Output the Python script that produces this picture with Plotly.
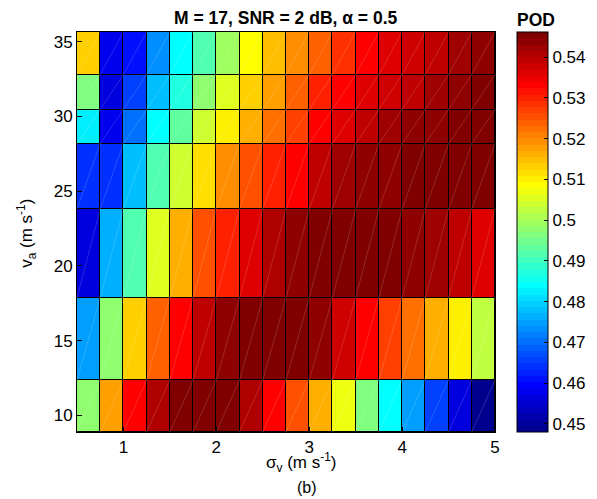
import plotly.graph_objects as go

# sigma_v cell edges (m/s) and v_a cell edges (m/s)
sigma_edges = [0.5 + 0.25 * i for i in range(19)]
va_edges = [8.88, 12.35, 17.86, 23.8, 28.17, 30.46, 32.8, 35.65]

# POD values, rows from bottom (low v_a) to top (high v_a), 18 columns each
pod_row1 = [0.4978, 0.5180, 0.5339, 0.5403, 0.5462, 0.5460, 0.5457, 0.5408, 0.5339,
            0.5251, 0.5161, 0.5064, 0.4968, 0.4848, 0.4747, 0.4662, 0.4568, 0.4492]
pod_row2 = [0.4747, 0.4978, 0.5128, 0.5241, 0.5339, 0.5388, 0.5433, 0.5452, 0.5455,
            0.5452, 0.5433, 0.5383, 0.5339, 0.5275, 0.5223, 0.5156, 0.5094, 0.5020]
pod_row3 = [0.4563, 0.4762, 0.4922, 0.5059, 0.5156, 0.5248, 0.5300, 0.5364, 0.5403,
            0.5433, 0.5452, 0.5462, 0.5460, 0.5452, 0.5433, 0.5418, 0.5388, 0.5369]
pod_row4 = [0.4642, 0.4647, 0.4781, 0.4917, 0.5040, 0.5113, 0.5187, 0.5248, 0.5300,
            0.5339, 0.5393, 0.5423, 0.5433, 0.5442, 0.5447, 0.5452, 0.5452, 0.5457]
pod_row5 = [0.4829, 0.4583, 0.4701, 0.4834, 0.4925, 0.5040, 0.5108, 0.5170, 0.5223,
            0.5275, 0.5325, 0.5364, 0.5393, 0.5418, 0.5433, 0.5442, 0.5457, 0.5462]
pod_row6 = [0.4968, 0.4563, 0.4652, 0.4781, 0.4878, 0.4971, 0.5059, 0.5128, 0.5180,
            0.5241, 0.5295, 0.5339, 0.5369, 0.5383, 0.5398, 0.5423, 0.5444, 0.5457]
pod_row7 = [0.5128, 0.4578, 0.4608, 0.4726, 0.4848, 0.4917, 0.4996, 0.5079, 0.5148,
            0.5192, 0.5241, 0.5290, 0.5339, 0.5369, 0.5379, 0.5398, 0.5418, 0.5433]

x_ticks = [1, 2, 3, 4, 5]
y_ticks = [10, 15, 20, 25, 30, 35]
cbar_ticks = [0.45, 0.46, 0.47, 0.48, 0.49, 0.50, 0.51, 0.52, 0.53, 0.54]
cbar_labels = ["0.45", "0.46", "0.47", "0.48", "0.49", "0.5", "0.51", "0.52", "0.53", "0.54"]
z_min, z_max = 0.448, 0.5462

z = [pod_row1, pod_row2, pod_row3, pod_row4, pod_row5, pod_row6, pod_row7]


def matlab_jet(m=64):
    n = -(-m // 4)
    u = [k / n for k in range(1, n + 1)] + [1.0] * (n - 1) + [k / n for k in range(n, 0, -1)]
    g0 = -(-n // 2) - (1 if m % 4 == 1 else 0)
    J = [[0.0, 0.0, 0.0] for _ in range(m)]
    for i, val in enumerate(u):
        g = g0 + i + 1
        r = g + n
        b = g - n
        if 1 <= r <= m:
            J[r - 1][0] = val
        if 1 <= g <= m:
            J[g - 1][1] = val
        if 1 <= b <= m:
            J[b - 1][2] = val
    return J


jet = matlab_jet(64)
colorscale = []
for i, c in enumerate(jet):
    col = "rgb(%d,%d,%d)" % tuple(round(v * 255) for v in c)
    colorscale.append([i / 64, col])
    colorscale.append([(i + 1) / 64, col])

FONT = "Liberation Sans, Arial, Helvetica, sans-serif"

fig = go.Figure()
fig.add_trace(go.Heatmap(
    x=sigma_edges, y=va_edges, z=z,
    zmin=z_min, zmax=z_max, colorscale=colorscale,
    xgap=1, ygap=1,
    colorbar=dict(
        x=1.0533, xanchor="left", xref="paper",
        y=0.5, yanchor="middle", yref="paper",
        len=1.0, lenmode="fraction",
        thickness=31, thicknessmode="pixels",
        xpad=0, ypad=0,
        outlinewidth=1, outlinecolor="black",
        ticks="inside", ticklen=4, tickcolor="black",
        tickvals=cbar_ticks, ticktext=cbar_labels,
        tickfont=dict(family=FONT, size=17, color="black"),
    ),
    hoverinfo="skip",
))

# faint diagonal rendering seams inside each cell (as in the original export)
dx, dy = [], []
for j in range(len(va_edges) - 1):
    for i in range(len(sigma_edges) - 1):
        dx += [sigma_edges[i], sigma_edges[i + 1], None]
        dy += [va_edges[j], va_edges[j + 1], None]
fig.add_trace(go.Scatter(x=dx, y=dy, mode="lines",
                         line=dict(color="rgba(255,255,255,0.2)", width=0.8),
                         hoverinfo="skip", showlegend=False))

# page body has an 8 px default margin, so the figure is offset accordingly
fig.update_layout(
    width=589, height=491,
    margin=dict(l=69, r=102, t=24, b=67, autoexpand=False),
    paper_bgcolor="white", plot_bgcolor="black",
    font=dict(family=FONT, size=17, color="black"),
    showlegend=False,
)
fig.update_xaxes(range=[0.5, 5], tickvals=x_ticks, ticks="inside", ticklen=5,
                 tickcolor="black", showline=True, mirror=True, linecolor="black",
                 linewidth=1, showgrid=False, zeroline=False,
                 tickfont=dict(family=FONT, size=17))
fig.update_yaxes(range=[va_edges[0], va_edges[-1]], tickvals=y_ticks, ticks="inside",
                 ticklen=5, tickcolor="black", showline=True, mirror=True,
                 linecolor="black", linewidth=1, showgrid=False, zeroline=False,
                 tickfont=dict(family=FONT, size=17))

fig.add_annotation(text="<b>M = 17, SNR = 2 dB, α = 0.5</b>", xref="paper", yref="paper",
                   x=0.5, y=1.034, xanchor="center", yanchor="middle", showarrow=False,
                   borderpad=0, font=dict(family=FONT, size=17.5))
fig.add_annotation(text="<b>POD</b>", xref="paper", yref="paper",
                   x=1.098, y=1.031, xanchor="center", yanchor="middle", showarrow=False,
                   borderpad=0, font=dict(family=FONT, size=17.5))
fig.add_annotation(text="σ<sub>v</sub> (m s<sup>-1</sup>)", xref="paper", yref="paper",
                   x=0.536, y=-0.0775, xanchor="center", yanchor="middle", showarrow=False,
                   font=dict(family=FONT, size=17))
fig.add_annotation(text="(b)", xref="paper", yref="paper",
                   x=0.5495, y=-0.1375, xanchor="center", yanchor="middle", showarrow=False,
                   font=dict(family=FONT, size=16))
fig.add_annotation(text="v<sub>a</sub> (m s<sup>-1</sup>)", xref="paper", yref="paper",
                   x=-0.12, y=0.4975, xanchor="center", yanchor="middle", showarrow=False,
                   textangle=-90, font=dict(family=FONT, size=17))

fig.write_html("out.html")
